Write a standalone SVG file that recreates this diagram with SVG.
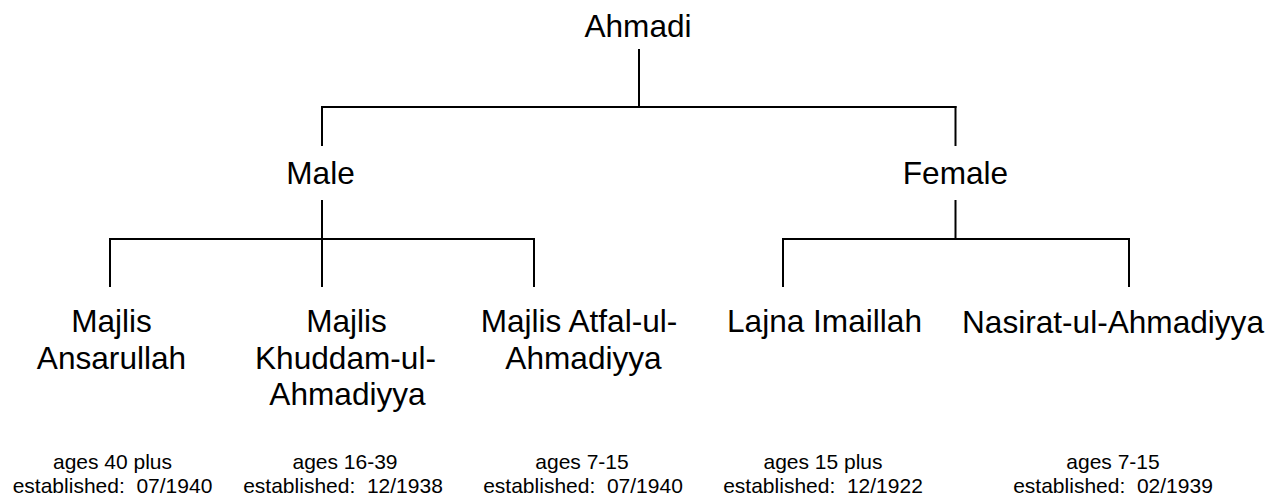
<svg xmlns="http://www.w3.org/2000/svg" width="1271" height="495" viewBox="0 0 1271 495">
<style>
text{font-family:"Liberation Sans",Arial,sans-serif;fill:#000;text-anchor:middle}
.big{font-size:31.6px}
.small{font-size:21px;white-space:pre}
.conn line{stroke:#000;stroke-width:2}
</style>
<rect width="1271" height="495" fill="#fff"/>
<g id="connectors" class="conn">
<line x1="639" y1="49" x2="639" y2="107"/>
<line x1="321" y1="107" x2="956.5" y2="107"/>
<line x1="322" y1="106" x2="322" y2="146"/>
<line x1="955.5" y1="106" x2="955.5" y2="146"/>
<line x1="322" y1="200" x2="322" y2="239"/>
<line x1="955.5" y1="200" x2="955.5" y2="239"/>
<line x1="109" y1="239" x2="535" y2="239"/>
<line x1="782" y1="239" x2="1130" y2="239"/>
<line x1="110" y1="238" x2="110" y2="287"/>
<line x1="322" y1="238" x2="322" y2="287"/>
<line x1="534" y1="238" x2="534" y2="287"/>
<line x1="783" y1="238" x2="783" y2="287"/>
<line x1="1129" y1="238" x2="1129" y2="287"/>
</g>
<g id="ahmadi"><text class="big" x="638" y="37">Ahmadi</text></g>
<g id="male"><text class="big" x="320.5" y="184">Male</text></g>
<g id="female"><text class="big" x="955.5" y="184">Female</text></g>
<g id="ansarullah">
<text class="big" x="111.5" y="332">Majlis</text>
<text class="big" x="111.5" y="368.5">Ansarullah</text>
<text class="small" x="112.5" y="468.5">ages 40 plus</text>
<text class="small" x="112.5" y="493.3">established:  07/1940</text>
</g>
<g id="khuddam">
<text class="big" x="346.5" y="332">Majlis</text>
<text class="big" x="345.5" y="368.5">Khuddam-ul-</text>
<text class="big" x="347.5" y="405">Ahmadiyya</text>
<text class="small" x="345" y="468.5">ages 16-39</text>
<text class="small" x="343" y="493.3">established:  12/1938</text>
</g>
<g id="atfal">
<text class="big" x="579" y="332">Majlis Atfal-ul-</text>
<text class="big" x="583.5" y="368.5">Ahmadiyya</text>
<text class="small" x="582" y="468.5">ages 7-15</text>
<text class="small" x="583" y="493.3">established:  07/1940</text>
</g>
<g id="lajna">
<text class="big" x="824.5" y="332">Lajna Imaillah</text>
<text class="small" x="823" y="468.5">ages 15 plus</text>
<text class="small" x="823" y="493.3">established:  12/1922</text>
</g>
<g id="nasirat">
<text class="big" x="1113" y="332.5">Nasirat-ul-Ahmadiyya</text>
<text class="small" x="1113" y="468.5">ages 7-15</text>
<text class="small" x="1113" y="493.3">established:  02/1939</text>
</g>
</svg>
